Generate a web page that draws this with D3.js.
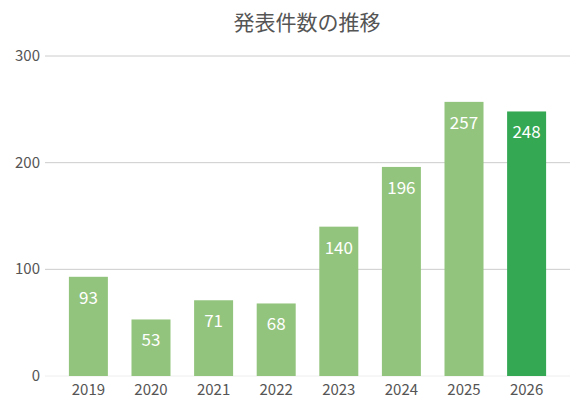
<!DOCTYPE html>
<html><head><meta charset="utf-8">
<script src="https://cdn.jsdelivr.net/npm/d3@7"></script>
<style>body{margin:0;background:#fff}</style></head>
<body><svg id="c" width="580" height="408"></svg>
<script>
const title = "発表件数の推移";
const categories = ["2019","2020","2021","2022","2023","2024","2025","2026"];
const values = [93,53,71,68,140,196,257,248];
const yTicks = [0,100,200,300];
const font = "'Noto Sans CJK JP','Noto Sans',sans-serif";
const svg = d3.select("#c");
const x = d3.scaleBand().domain(categories).range([57,558]).paddingInner(0.377).paddingOuter(0.19);
const y = d3.scaleLinear().domain([0,300]).range([376,56]);
svg.append("text").attr("x",307).attr("y",30).attr("text-anchor","middle")
  .attr("font-family",font).attr("font-size",21).attr("fill","#555").text(title);
const g = svg.append("g");
yTicks.forEach(t=>{
  g.append("line").attr("x1",45).attr("x2",570).attr("y1",y(t)).attr("y2",y(t))
   .attr("stroke", t===0?"#eee":"#ccc").attr("stroke-width",1);
  g.append("text").attr("x",40).attr("y",y(t)+5).attr("text-anchor","end")
   .attr("font-family",font).attr("font-size",15).attr("fill","#555").text(t);
});
categories.forEach((c,i)=>{
  const v=values[i];
  g.append("rect").attr("x",x(c)).attr("width",x.bandwidth()).attr("y",y(v)).attr("height",y(0)-y(v))
   .attr("fill", i===categories.length-1?"#34a853":"#93c47d");
  g.append("text").attr("x",x(c)+x.bandwidth()/2).attr("y",y(v)+27).attr("text-anchor","middle")
   .attr("font-family",font).attr("font-size",17).attr("fill","#fff").text(v);
  g.append("text").attr("x",x(c)+x.bandwidth()/2).attr("y",395).attr("text-anchor","middle")
   .attr("font-family",font).attr("font-size",15).attr("fill","#555").text(c);
});
</script></body></html>
